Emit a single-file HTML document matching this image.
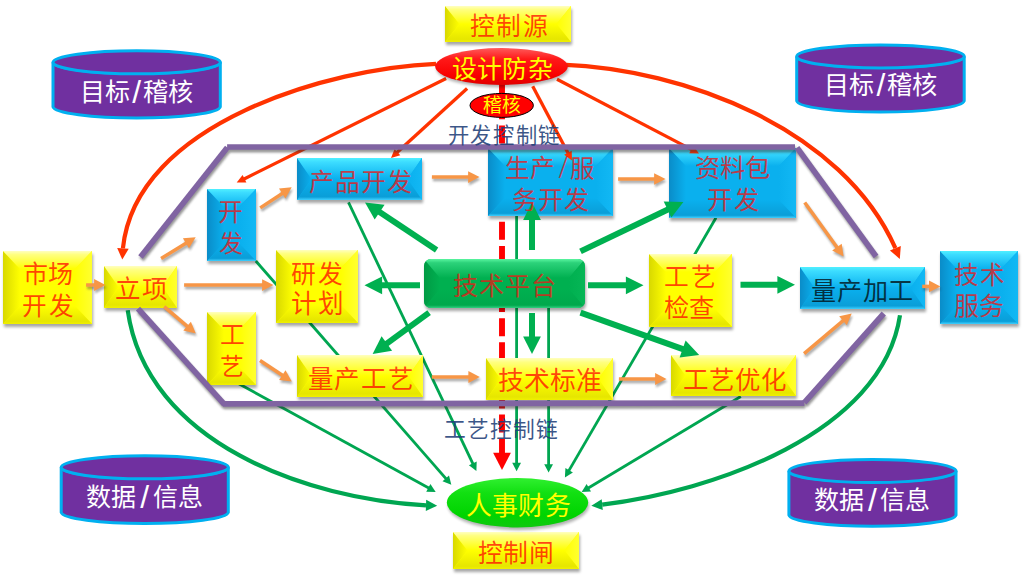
<!DOCTYPE html>
<html lang="zh-CN"><head><meta charset="utf-8"><title>diagram</title>
<style>html,body{margin:0;padding:0;background:#fff;}svg{display:block;}</style>
</head><body>
<svg width="1022" height="577" viewBox="0 0 1022 577">
<defs><filter id="sh" x="-20%" y="-20%" width="140%" height="160%"><feGaussianBlur stdDeviation="1.6"/></filter>
<filter id="shl" x="-5%" y="-20%" width="110%" height="140%"><feGaussianBlur stdDeviation="1.2"/></filter>
<linearGradient id="g1" x1="0" y1="0" x2="1" y2="0"><stop offset="0" stop-color="#D8D800" stop-opacity="1"/><stop offset="1" stop-color="#FFFF00" stop-opacity="1"/></linearGradient>
<linearGradient id="g2" x1="0" y1="0" x2="0" y2="1"><stop offset="0" stop-color="#FFFFC0" stop-opacity="1"/><stop offset="0.2" stop-color="#FFFF80" stop-opacity="1"/><stop offset="1" stop-color="#FFFF00" stop-opacity="1"/></linearGradient>
<linearGradient id="g3" x1="0" y1="0" x2="1" y2="0"><stop offset="0" stop-color="#FFFF00" stop-opacity="1"/><stop offset="1" stop-color="#FFFF30" stop-opacity="1"/></linearGradient>
<linearGradient id="g4" x1="0" y1="0" x2="0" y2="1"><stop offset="0" stop-color="#FFFF00" stop-opacity="1"/><stop offset="0.85" stop-color="#E6E600" stop-opacity="1"/><stop offset="1" stop-color="#F0F000" stop-opacity="1"/></linearGradient>
<linearGradient id="g5" x1="0" y1="0" x2="1" y2="0"><stop offset="0" stop-color="#D8D800" stop-opacity="1"/><stop offset="1" stop-color="#FFFF00" stop-opacity="1"/></linearGradient>
<linearGradient id="g6" x1="0" y1="0" x2="0" y2="1"><stop offset="0" stop-color="#FFFFC0" stop-opacity="1"/><stop offset="0.2" stop-color="#FFFF80" stop-opacity="1"/><stop offset="1" stop-color="#FFFF00" stop-opacity="1"/></linearGradient>
<linearGradient id="g7" x1="0" y1="0" x2="1" y2="0"><stop offset="0" stop-color="#FFFF00" stop-opacity="1"/><stop offset="1" stop-color="#FFFF30" stop-opacity="1"/></linearGradient>
<linearGradient id="g8" x1="0" y1="0" x2="0" y2="1"><stop offset="0" stop-color="#FFFF00" stop-opacity="1"/><stop offset="0.85" stop-color="#E6E600" stop-opacity="1"/><stop offset="1" stop-color="#F0F000" stop-opacity="1"/></linearGradient>
<linearGradient id="g9" x1="0" y1="0" x2="1" y2="0"><stop offset="0" stop-color="#D8D800" stop-opacity="1"/><stop offset="1" stop-color="#FFFF00" stop-opacity="1"/></linearGradient>
<linearGradient id="g10" x1="0" y1="0" x2="0" y2="1"><stop offset="0" stop-color="#FFFFC0" stop-opacity="1"/><stop offset="0.2" stop-color="#FFFF80" stop-opacity="1"/><stop offset="1" stop-color="#FFFF00" stop-opacity="1"/></linearGradient>
<linearGradient id="g11" x1="0" y1="0" x2="1" y2="0"><stop offset="0" stop-color="#FFFF00" stop-opacity="1"/><stop offset="1" stop-color="#FFFF30" stop-opacity="1"/></linearGradient>
<linearGradient id="g12" x1="0" y1="0" x2="0" y2="1"><stop offset="0" stop-color="#FFFF00" stop-opacity="1"/><stop offset="0.85" stop-color="#E6E600" stop-opacity="1"/><stop offset="1" stop-color="#F0F000" stop-opacity="1"/></linearGradient>
<linearGradient id="g13" x1="0" y1="0" x2="1" y2="0"><stop offset="0" stop-color="#0A8CC8" stop-opacity="1"/><stop offset="1" stop-color="#0AB0EE" stop-opacity="1"/></linearGradient>
<linearGradient id="g14" x1="0" y1="0" x2="0" y2="1"><stop offset="0" stop-color="#50F0FF" stop-opacity="1"/><stop offset="0.2" stop-color="#3CDCFF" stop-opacity="1"/><stop offset="1" stop-color="#0AB0EE" stop-opacity="1"/></linearGradient>
<linearGradient id="g15" x1="0" y1="0" x2="1" y2="0"><stop offset="0" stop-color="#0AB0EE" stop-opacity="1"/><stop offset="1" stop-color="#12B8F4" stop-opacity="1"/></linearGradient>
<linearGradient id="g16" x1="0" y1="0" x2="0" y2="1"><stop offset="0" stop-color="#0AB0EE" stop-opacity="1"/><stop offset="0.85" stop-color="#0A9ED8" stop-opacity="1"/><stop offset="1" stop-color="#40D0FF" stop-opacity="1"/></linearGradient>
<linearGradient id="g17" x1="0" y1="0" x2="1" y2="0"><stop offset="0" stop-color="#D8D800" stop-opacity="1"/><stop offset="1" stop-color="#FFFF00" stop-opacity="1"/></linearGradient>
<linearGradient id="g18" x1="0" y1="0" x2="0" y2="1"><stop offset="0" stop-color="#FFFFC0" stop-opacity="1"/><stop offset="0.2" stop-color="#FFFF80" stop-opacity="1"/><stop offset="1" stop-color="#FFFF00" stop-opacity="1"/></linearGradient>
<linearGradient id="g19" x1="0" y1="0" x2="1" y2="0"><stop offset="0" stop-color="#FFFF00" stop-opacity="1"/><stop offset="1" stop-color="#FFFF30" stop-opacity="1"/></linearGradient>
<linearGradient id="g20" x1="0" y1="0" x2="0" y2="1"><stop offset="0" stop-color="#FFFF00" stop-opacity="1"/><stop offset="0.85" stop-color="#E6E600" stop-opacity="1"/><stop offset="1" stop-color="#F0F000" stop-opacity="1"/></linearGradient>
<linearGradient id="g21" x1="0" y1="0" x2="1" y2="0"><stop offset="0" stop-color="#0A8CC8" stop-opacity="1"/><stop offset="1" stop-color="#0AB0EE" stop-opacity="1"/></linearGradient>
<linearGradient id="g22" x1="0" y1="0" x2="0" y2="1"><stop offset="0" stop-color="#50F0FF" stop-opacity="1"/><stop offset="0.2" stop-color="#3CDCFF" stop-opacity="1"/><stop offset="1" stop-color="#0AB0EE" stop-opacity="1"/></linearGradient>
<linearGradient id="g23" x1="0" y1="0" x2="1" y2="0"><stop offset="0" stop-color="#0AB0EE" stop-opacity="1"/><stop offset="1" stop-color="#12B8F4" stop-opacity="1"/></linearGradient>
<linearGradient id="g24" x1="0" y1="0" x2="0" y2="1"><stop offset="0" stop-color="#0AB0EE" stop-opacity="1"/><stop offset="0.85" stop-color="#0A9ED8" stop-opacity="1"/><stop offset="1" stop-color="#40D0FF" stop-opacity="1"/></linearGradient>
<linearGradient id="g25" x1="0" y1="0" x2="1" y2="0"><stop offset="0" stop-color="#D8D800" stop-opacity="1"/><stop offset="1" stop-color="#FFFF00" stop-opacity="1"/></linearGradient>
<linearGradient id="g26" x1="0" y1="0" x2="0" y2="1"><stop offset="0" stop-color="#FFFFC0" stop-opacity="1"/><stop offset="0.2" stop-color="#FFFF80" stop-opacity="1"/><stop offset="1" stop-color="#FFFF00" stop-opacity="1"/></linearGradient>
<linearGradient id="g27" x1="0" y1="0" x2="1" y2="0"><stop offset="0" stop-color="#FFFF00" stop-opacity="1"/><stop offset="1" stop-color="#FFFF30" stop-opacity="1"/></linearGradient>
<linearGradient id="g28" x1="0" y1="0" x2="0" y2="1"><stop offset="0" stop-color="#FFFF00" stop-opacity="1"/><stop offset="0.85" stop-color="#E6E600" stop-opacity="1"/><stop offset="1" stop-color="#F0F000" stop-opacity="1"/></linearGradient>
<linearGradient id="g29" x1="0" y1="0" x2="1" y2="0"><stop offset="0" stop-color="#D8D800" stop-opacity="1"/><stop offset="1" stop-color="#FFFF00" stop-opacity="1"/></linearGradient>
<linearGradient id="g30" x1="0" y1="0" x2="0" y2="1"><stop offset="0" stop-color="#FFFFC0" stop-opacity="1"/><stop offset="0.2" stop-color="#FFFF80" stop-opacity="1"/><stop offset="1" stop-color="#FFFF00" stop-opacity="1"/></linearGradient>
<linearGradient id="g31" x1="0" y1="0" x2="1" y2="0"><stop offset="0" stop-color="#FFFF00" stop-opacity="1"/><stop offset="1" stop-color="#FFFF30" stop-opacity="1"/></linearGradient>
<linearGradient id="g32" x1="0" y1="0" x2="0" y2="1"><stop offset="0" stop-color="#FFFF00" stop-opacity="1"/><stop offset="0.85" stop-color="#E6E600" stop-opacity="1"/><stop offset="1" stop-color="#F0F000" stop-opacity="1"/></linearGradient>
<linearGradient id="g33" x1="0" y1="0" x2="1" y2="0"><stop offset="0" stop-color="#0A8CC8" stop-opacity="1"/><stop offset="1" stop-color="#0AB0EE" stop-opacity="1"/></linearGradient>
<linearGradient id="g34" x1="0" y1="0" x2="0" y2="1"><stop offset="0" stop-color="#50F0FF" stop-opacity="1"/><stop offset="0.2" stop-color="#3CDCFF" stop-opacity="1"/><stop offset="1" stop-color="#0AB0EE" stop-opacity="1"/></linearGradient>
<linearGradient id="g35" x1="0" y1="0" x2="1" y2="0"><stop offset="0" stop-color="#0AB0EE" stop-opacity="1"/><stop offset="1" stop-color="#12B8F4" stop-opacity="1"/></linearGradient>
<linearGradient id="g36" x1="0" y1="0" x2="0" y2="1"><stop offset="0" stop-color="#0AB0EE" stop-opacity="1"/><stop offset="0.85" stop-color="#0A9ED8" stop-opacity="1"/><stop offset="1" stop-color="#40D0FF" stop-opacity="1"/></linearGradient>
<linearGradient id="g37" x1="0" y1="0" x2="1" y2="0"><stop offset="0" stop-color="#D8D800" stop-opacity="1"/><stop offset="1" stop-color="#FFFF00" stop-opacity="1"/></linearGradient>
<linearGradient id="g38" x1="0" y1="0" x2="0" y2="1"><stop offset="0" stop-color="#FFFFC0" stop-opacity="1"/><stop offset="0.2" stop-color="#FFFF80" stop-opacity="1"/><stop offset="1" stop-color="#FFFF00" stop-opacity="1"/></linearGradient>
<linearGradient id="g39" x1="0" y1="0" x2="1" y2="0"><stop offset="0" stop-color="#FFFF00" stop-opacity="1"/><stop offset="1" stop-color="#FFFF30" stop-opacity="1"/></linearGradient>
<linearGradient id="g40" x1="0" y1="0" x2="0" y2="1"><stop offset="0" stop-color="#FFFF00" stop-opacity="1"/><stop offset="0.85" stop-color="#E6E600" stop-opacity="1"/><stop offset="1" stop-color="#F0F000" stop-opacity="1"/></linearGradient>
<linearGradient id="g41" x1="0" y1="0" x2="1" y2="0"><stop offset="0" stop-color="#0A8CC8" stop-opacity="1"/><stop offset="1" stop-color="#0AB0EE" stop-opacity="1"/></linearGradient>
<linearGradient id="g42" x1="0" y1="0" x2="0" y2="1"><stop offset="0" stop-color="#50F0FF" stop-opacity="1"/><stop offset="0.2" stop-color="#3CDCFF" stop-opacity="1"/><stop offset="1" stop-color="#0AB0EE" stop-opacity="1"/></linearGradient>
<linearGradient id="g43" x1="0" y1="0" x2="1" y2="0"><stop offset="0" stop-color="#0AB0EE" stop-opacity="1"/><stop offset="1" stop-color="#12B8F4" stop-opacity="1"/></linearGradient>
<linearGradient id="g44" x1="0" y1="0" x2="0" y2="1"><stop offset="0" stop-color="#0AB0EE" stop-opacity="1"/><stop offset="0.85" stop-color="#0A9ED8" stop-opacity="1"/><stop offset="1" stop-color="#40D0FF" stop-opacity="1"/></linearGradient>
<linearGradient id="g45" x1="0" y1="0" x2="1" y2="0"><stop offset="0" stop-color="#D8D800" stop-opacity="1"/><stop offset="1" stop-color="#FFFF00" stop-opacity="1"/></linearGradient>
<linearGradient id="g46" x1="0" y1="0" x2="0" y2="1"><stop offset="0" stop-color="#FFFFC0" stop-opacity="1"/><stop offset="0.2" stop-color="#FFFF80" stop-opacity="1"/><stop offset="1" stop-color="#FFFF00" stop-opacity="1"/></linearGradient>
<linearGradient id="g47" x1="0" y1="0" x2="1" y2="0"><stop offset="0" stop-color="#FFFF00" stop-opacity="1"/><stop offset="1" stop-color="#FFFF30" stop-opacity="1"/></linearGradient>
<linearGradient id="g48" x1="0" y1="0" x2="0" y2="1"><stop offset="0" stop-color="#FFFF00" stop-opacity="1"/><stop offset="0.85" stop-color="#E6E600" stop-opacity="1"/><stop offset="1" stop-color="#F0F000" stop-opacity="1"/></linearGradient>
<linearGradient id="g49" x1="0" y1="0" x2="1" y2="0"><stop offset="0" stop-color="#D8D800" stop-opacity="1"/><stop offset="1" stop-color="#FFFF00" stop-opacity="1"/></linearGradient>
<linearGradient id="g50" x1="0" y1="0" x2="0" y2="1"><stop offset="0" stop-color="#FFFFC0" stop-opacity="1"/><stop offset="0.2" stop-color="#FFFF80" stop-opacity="1"/><stop offset="1" stop-color="#FFFF00" stop-opacity="1"/></linearGradient>
<linearGradient id="g51" x1="0" y1="0" x2="1" y2="0"><stop offset="0" stop-color="#FFFF00" stop-opacity="1"/><stop offset="1" stop-color="#FFFF30" stop-opacity="1"/></linearGradient>
<linearGradient id="g52" x1="0" y1="0" x2="0" y2="1"><stop offset="0" stop-color="#FFFF00" stop-opacity="1"/><stop offset="0.85" stop-color="#E6E600" stop-opacity="1"/><stop offset="1" stop-color="#F0F000" stop-opacity="1"/></linearGradient>
<linearGradient id="g53" x1="0" y1="0" x2="1" y2="0"><stop offset="0" stop-color="#0A8CC8" stop-opacity="1"/><stop offset="1" stop-color="#0AB0EE" stop-opacity="1"/></linearGradient>
<linearGradient id="g54" x1="0" y1="0" x2="0" y2="1"><stop offset="0" stop-color="#50F0FF" stop-opacity="1"/><stop offset="0.2" stop-color="#3CDCFF" stop-opacity="1"/><stop offset="1" stop-color="#0AB0EE" stop-opacity="1"/></linearGradient>
<linearGradient id="g55" x1="0" y1="0" x2="1" y2="0"><stop offset="0" stop-color="#0AB0EE" stop-opacity="1"/><stop offset="1" stop-color="#12B8F4" stop-opacity="1"/></linearGradient>
<linearGradient id="g56" x1="0" y1="0" x2="0" y2="1"><stop offset="0" stop-color="#0AB0EE" stop-opacity="1"/><stop offset="0.85" stop-color="#0A9ED8" stop-opacity="1"/><stop offset="1" stop-color="#40D0FF" stop-opacity="1"/></linearGradient>
<linearGradient id="g57" x1="0" y1="0" x2="1" y2="0"><stop offset="0" stop-color="#0A8CC8" stop-opacity="1"/><stop offset="1" stop-color="#0AB0EE" stop-opacity="1"/></linearGradient>
<linearGradient id="g58" x1="0" y1="0" x2="0" y2="1"><stop offset="0" stop-color="#50F0FF" stop-opacity="1"/><stop offset="0.2" stop-color="#3CDCFF" stop-opacity="1"/><stop offset="1" stop-color="#0AB0EE" stop-opacity="1"/></linearGradient>
<linearGradient id="g59" x1="0" y1="0" x2="1" y2="0"><stop offset="0" stop-color="#0AB0EE" stop-opacity="1"/><stop offset="1" stop-color="#12B8F4" stop-opacity="1"/></linearGradient>
<linearGradient id="g60" x1="0" y1="0" x2="0" y2="1"><stop offset="0" stop-color="#0AB0EE" stop-opacity="1"/><stop offset="0.85" stop-color="#0A9ED8" stop-opacity="1"/><stop offset="1" stop-color="#40D0FF" stop-opacity="1"/></linearGradient>
<linearGradient id="g61" x1="0" y1="0" x2="1" y2="0"><stop offset="0" stop-color="#D8D800" stop-opacity="1"/><stop offset="1" stop-color="#FFFF00" stop-opacity="1"/></linearGradient>
<linearGradient id="g62" x1="0" y1="0" x2="0" y2="1"><stop offset="0" stop-color="#FFFFC0" stop-opacity="1"/><stop offset="0.2" stop-color="#FFFF80" stop-opacity="1"/><stop offset="1" stop-color="#FFFF00" stop-opacity="1"/></linearGradient>
<linearGradient id="g63" x1="0" y1="0" x2="1" y2="0"><stop offset="0" stop-color="#FFFF00" stop-opacity="1"/><stop offset="1" stop-color="#FFFF30" stop-opacity="1"/></linearGradient>
<linearGradient id="g64" x1="0" y1="0" x2="0" y2="1"><stop offset="0" stop-color="#FFFF00" stop-opacity="1"/><stop offset="0.85" stop-color="#E6E600" stop-opacity="1"/><stop offset="1" stop-color="#F0F000" stop-opacity="1"/></linearGradient>
<clipPath id="tpclip"><rect x="424" y="259" width="161" height="49" rx="7"/></clipPath>
<linearGradient id="g65" x1="0" y1="0" x2="1" y2="0"><stop offset="0" stop-color="#009A44" stop-opacity="1"/><stop offset="1" stop-color="#00B050" stop-opacity="1"/></linearGradient>
<linearGradient id="g66" x1="0" y1="0" x2="0" y2="1"><stop offset="0" stop-color="#5AF5A0" stop-opacity="1"/><stop offset="0.2" stop-color="#2CD27A" stop-opacity="1"/><stop offset="1" stop-color="#00B050" stop-opacity="1"/></linearGradient>
<linearGradient id="g67" x1="0" y1="0" x2="1" y2="0"><stop offset="0" stop-color="#00B050" stop-opacity="1"/><stop offset="1" stop-color="#06B656" stop-opacity="1"/></linearGradient>
<linearGradient id="g68" x1="0" y1="0" x2="0" y2="1"><stop offset="0" stop-color="#00B050" stop-opacity="1"/><stop offset="0.85" stop-color="#00A84C" stop-opacity="1"/><stop offset="1" stop-color="#30D080" stop-opacity="1"/></linearGradient>
<linearGradient id="redg" x1="0" y1="0" x2="0" y2="1"><stop offset="0" stop-color="#FF5A5A"/><stop offset="0.3" stop-color="#FF1818"/><stop offset="0.75" stop-color="#F80000"/><stop offset="1" stop-color="#E00000"/></linearGradient>
<linearGradient id="grg" x1="0" y1="0" x2="0" y2="1"><stop offset="0" stop-color="#30F030"/><stop offset="0.3" stop-color="#12E012"/><stop offset="0.75" stop-color="#00D400"/><stop offset="1" stop-color="#10C810"/></linearGradient></defs>
<rect width="1022" height="577" fill="#fff"/>
<path d="M53 62.3 L53 106.9 A83.7 11.5 0 0 0 220.3 106.9 L220.3 62.3 A83.7 11.5 0 0 1 53 62.3 Z" fill="#7030A0" stroke="#00B0F0" stroke-width="3"/><ellipse cx="136.7" cy="62.3" rx="83.7" ry="11.5" fill="#7030A0" stroke="#00B0F0" stroke-width="3"/>
<path d="M796.7 56.4 L796.7 101 A83.8 11.5 0 0 0 964.2 101 L964.2 56.4 A83.8 11.5 0 0 1 796.7 56.4 Z" fill="#7030A0" stroke="#00B0F0" stroke-width="3"/><ellipse cx="880.5" cy="56.4" rx="83.8" ry="11.5" fill="#7030A0" stroke="#00B0F0" stroke-width="3"/>
<path d="M61.2 467.3 L61.2 512.3 A83.6 11.5 0 0 0 228.3 512.3 L228.3 467.3 A83.6 11.5 0 0 1 61.2 467.3 Z" fill="#7030A0" stroke="#00B0F0" stroke-width="3"/><ellipse cx="144.8" cy="467.3" rx="83.6" ry="11.5" fill="#7030A0" stroke="#00B0F0" stroke-width="3"/>
<path d="M788.9 471 L788.9 515.1 A83.6 11.5 0 0 0 956 515.1 L956 471 A83.6 11.5 0 0 1 788.9 471 Z" fill="#7030A0" stroke="#00B0F0" stroke-width="3"/><ellipse cx="872.5" cy="471" rx="83.6" ry="11.5" fill="#7030A0" stroke="#00B0F0" stroke-width="3"/>
<path d="M127.7 310.3 C146.5 443.5 307.7 499.1 426 505.3" fill="none" stroke="#00A651" stroke-width="4.2"/><polygon points="437.2,505.7 425.8,510.9 426.2,499.7" fill="#00A651"/>
<path d="M900 315.3 C882.2 433.9 711.3 491.7 602.2 504.6" fill="none" stroke="#00A651" stroke-width="4.2"/><polygon points="591.3,505.8 601.7,499.2 602.8,510.1" fill="#00A651"/>
<line x1="255.8" y1="261" x2="446.4" y2="479.1" stroke="#00A651" stroke-width="2.8"/><polygon points="451.3,484.7 442.5,481.2 449,475.5" fill="#00A651"/>
<line x1="348.5" y1="202.4" x2="473.2" y2="464.3" stroke="#00A651" stroke-width="2.8"/><polygon points="476.4,471 468.9,465.3 476.7,461.5" fill="#00A651"/>
<line x1="237" y1="382.7" x2="429.2" y2="488.3" stroke="#00A651" stroke-width="2.8"/><polygon points="435.7,491.9 426.2,491.7 430.4,484" fill="#00A651"/>
<line x1="516.6" y1="216" x2="516.6" y2="463.8" stroke="#00A651" stroke-width="2.8"/><polygon points="516.6,471.2 512.2,462.8 521,462.8" fill="#00A651"/>
<line x1="548.6" y1="306" x2="548.6" y2="465.2" stroke="#00A651" stroke-width="2.8"/><polygon points="548.6,472.6 544.2,464.2 553,464.2" fill="#00A651"/>
<line x1="716" y1="217.8" x2="568.6" y2="471.1" stroke="#00A651" stroke-width="2.8"/><polygon points="564.9,477.5 565.4,468.1 572.9,472.4" fill="#00A651"/>
<line x1="740.8" y1="396.5" x2="587.9" y2="488.2" stroke="#00A651" stroke-width="2.8"/><polygon points="581.6,492 586.6,483.9 591,491.4" fill="#00A651"/>
<line x1="502" y1="77.2" x2="502" y2="453" stroke="#FF0000" stroke-width="5.9" stroke-dasharray="18 6.1" stroke-dashoffset="0"/>
<polygon points="502,470.1 493.1,452.8 510.9,452.8" fill="#FF0000"/>
<rect x="446" y="9" width="126" height="36" fill="#000" opacity="0.35" filter="url(#sh)"/><rect x="445" y="6" width="126" height="36" fill="#FFFF00"/><polygon points="445,6 459.5,24 459.5,24 445,42" fill="url(#g1)"/><polygon points="445,6 571,6 556.5,24 459.5,24" fill="url(#g2)"/><polygon points="571,6 571,42 556.5,24 556.5,24" fill="url(#g3)"/><polygon points="445,42 459.5,24 556.5,24 571,42" fill="url(#g4)"/><rect x="4" y="254" width="89" height="73" fill="#000" opacity="0.35" filter="url(#sh)"/><rect x="3" y="251" width="89" height="73" fill="#FFFF00"/><polygon points="3,251 20,269 20,306 3,324" fill="url(#g5)"/><polygon points="3,251 92,251 75,269 20,269" fill="url(#g6)"/><polygon points="92,251 92,324 75,306 75,269" fill="url(#g7)"/><polygon points="3,324 20,306 75,306 92,324" fill="url(#g8)"/><rect x="105" y="269" width="73" height="42" fill="#000" opacity="0.35" filter="url(#sh)"/><rect x="104" y="266" width="73" height="42" fill="#FFFF00"/><polygon points="104,266 118.5,287 118.5,287 104,308" fill="url(#g9)"/><polygon points="104,266 177,266 162.5,287 118.5,287" fill="url(#g10)"/><polygon points="177,266 177,308 162.5,287 162.5,287" fill="url(#g11)"/><polygon points="104,308 118.5,287 162.5,287 177,308" fill="url(#g12)"/><rect x="208" y="192" width="49" height="72" fill="#000" opacity="0.35" filter="url(#sh)"/><rect x="207" y="189" width="49" height="72" fill="#0AB0EE"/><polygon points="207,189 224,207 224,243 207,261" fill="url(#g13)"/><polygon points="207,189 256,189 239,207 224,207" fill="url(#g14)"/><polygon points="256,189 256,261 239,243 239,207" fill="url(#g15)"/><polygon points="207,261 224,243 239,243 256,261" fill="url(#g16)"/><rect x="208" y="315" width="49" height="73" fill="#000" opacity="0.35" filter="url(#sh)"/><rect x="207" y="312" width="49" height="73" fill="#FFFF00"/><polygon points="207,312 224,330 224,367 207,385" fill="url(#g17)"/><polygon points="207,312 256,312 239,330 224,330" fill="url(#g18)"/><polygon points="256,312 256,385 239,367 239,330" fill="url(#g19)"/><polygon points="207,385 224,367 239,367 256,385" fill="url(#g20)"/><rect x="298" y="161" width="125" height="42" fill="#000" opacity="0.35" filter="url(#sh)"/><rect x="297" y="158" width="125" height="42" fill="#0AB0EE"/><polygon points="297,158 311.5,179 311.5,179 297,200" fill="url(#g21)"/><polygon points="297,158 422,158 407.5,179 311.5,179" fill="url(#g22)"/><polygon points="422,158 422,200 407.5,179 407.5,179" fill="url(#g23)"/><polygon points="297,200 311.5,179 407.5,179 422,200" fill="url(#g24)"/><rect x="277" y="253" width="82" height="73" fill="#000" opacity="0.35" filter="url(#sh)"/><rect x="276" y="250" width="82" height="73" fill="#FFFF00"/><polygon points="276,250 293,268 293,305 276,323" fill="url(#g25)"/><polygon points="276,250 358,250 341,268 293,268" fill="url(#g26)"/><polygon points="358,250 358,323 341,305 341,268" fill="url(#g27)"/><polygon points="276,323 293,305 341,305 358,323" fill="url(#g28)"/><rect x="298" y="358" width="126" height="42" fill="#000" opacity="0.35" filter="url(#sh)"/><rect x="297" y="355" width="126" height="42" fill="#FFFF00"/><polygon points="297,355 311.5,376 311.5,376 297,397" fill="url(#g29)"/><polygon points="297,355 423,355 408.5,376 311.5,376" fill="url(#g30)"/><polygon points="423,355 423,397 408.5,376 408.5,376" fill="url(#g31)"/><polygon points="297,397 311.5,376 408.5,376 423,397" fill="url(#g32)"/><rect x="489" y="151" width="125" height="68" fill="#000" opacity="0.35" filter="url(#sh)"/><rect x="488" y="148" width="125" height="68" fill="#0AB0EE"/><polygon points="488,148 505,166 505,198 488,216" fill="url(#g33)"/><polygon points="488,148 613,148 596,166 505,166" fill="url(#g34)"/><polygon points="613,148 613,216 596,198 596,166" fill="url(#g35)"/><polygon points="488,216 505,198 596,198 613,216" fill="url(#g36)"/><rect x="487" y="361" width="127" height="42" fill="#000" opacity="0.35" filter="url(#sh)"/><rect x="486" y="358" width="127" height="42" fill="#FFFF00"/><polygon points="486,358 500.5,379 500.5,379 486,400" fill="url(#g37)"/><polygon points="486,358 613,358 598.5,379 500.5,379" fill="url(#g38)"/><polygon points="613,358 613,400 598.5,379 598.5,379" fill="url(#g39)"/><polygon points="486,400 500.5,379 598.5,379 613,400" fill="url(#g40)"/><rect x="670" y="151" width="127" height="70" fill="#000" opacity="0.35" filter="url(#sh)"/><rect x="669" y="148" width="127" height="70" fill="#0AB0EE"/><polygon points="669,148 686,166 686,200 669,218" fill="url(#g41)"/><polygon points="669,148 796,148 779,166 686,166" fill="url(#g42)"/><polygon points="796,148 796,218 779,200 779,166" fill="url(#g43)"/><polygon points="669,218 686,200 779,200 796,218" fill="url(#g44)"/><rect x="650" y="257" width="83" height="73" fill="#000" opacity="0.35" filter="url(#sh)"/><rect x="649" y="254" width="83" height="73" fill="#FFFF00"/><polygon points="649,254 666,272 666,309 649,327" fill="url(#g45)"/><polygon points="649,254 732,254 715,272 666,272" fill="url(#g46)"/><polygon points="732,254 732,327 715,309 715,272" fill="url(#g47)"/><polygon points="649,327 666,309 715,309 732,327" fill="url(#g48)"/><rect x="672" y="358" width="125" height="41" fill="#000" opacity="0.35" filter="url(#sh)"/><rect x="671" y="355" width="125" height="41" fill="#FFFF00"/><polygon points="671,355 685.5,375.5 685.5,375.5 671,396" fill="url(#g49)"/><polygon points="671,355 796,355 781.5,375.5 685.5,375.5" fill="url(#g50)"/><polygon points="796,355 796,396 781.5,375.5 781.5,375.5" fill="url(#g51)"/><polygon points="671,396 685.5,375.5 781.5,375.5 796,396" fill="url(#g52)"/><rect x="801" y="270" width="125" height="42" fill="#000" opacity="0.35" filter="url(#sh)"/><rect x="800" y="267" width="125" height="42" fill="#0AB0EE"/><polygon points="800,267 814.5,288 814.5,288 800,309" fill="url(#g53)"/><polygon points="800,267 925,267 910.5,288 814.5,288" fill="url(#g54)"/><polygon points="925,267 925,309 910.5,288 910.5,288" fill="url(#g55)"/><polygon points="800,309 814.5,288 910.5,288 925,309" fill="url(#g56)"/><rect x="941" y="254" width="78" height="73" fill="#000" opacity="0.35" filter="url(#sh)"/><rect x="940" y="251" width="78" height="73" fill="#0AB0EE"/><polygon points="940,251 957,269 957,306 940,324" fill="url(#g57)"/><polygon points="940,251 1018,251 1001,269 957,269" fill="url(#g58)"/><polygon points="1018,251 1018,324 1001,306 1001,269" fill="url(#g59)"/><polygon points="940,324 957,306 1001,306 1018,324" fill="url(#g60)"/><rect x="454" y="535" width="126" height="37" fill="#000" opacity="0.35" filter="url(#sh)"/><rect x="453" y="532" width="126" height="37" fill="#FFFF00"/><polygon points="453,532 467.5,550.5 467.5,550.5 453,569" fill="url(#g61)"/><polygon points="453,532 579,532 564.5,550.5 467.5,550.5" fill="url(#g62)"/><polygon points="579,532 579,569 564.5,550.5 564.5,550.5" fill="url(#g63)"/><polygon points="453,569 467.5,550.5 564.5,550.5 579,569" fill="url(#g64)"/>
<rect x="425" y="262" width="161" height="49" rx="7" fill="#000" opacity="0.35" filter="url(#sh)"/><g clip-path="url(#tpclip)"><rect x="424" y="259" width="161" height="49" fill="#00B050"/><polygon points="424,259 440,278 440,289 424,308" fill="url(#g65)"/><polygon points="424,259 585,259 569,278 440,278" fill="url(#g66)"/><polygon points="585,259 585,308 569,289 569,278" fill="url(#g67)"/><polygon points="424,308 440,289 569,289 585,308" fill="url(#g68)"/></g>
<path d="M436 63.8 C331.4 67.9 135.7 122.3 122.9 248.4" fill="none" stroke="#FF3300" stroke-width="4.2"/><polygon points="122.3,259.6 117.2,248.1 128.7,248.7" fill="#FF3300"/><path d="M562 64.6 C684.8 69.1 842.3 128.5 895.4 248.2" fill="none" stroke="#FF3300" stroke-width="4.2"/><polygon points="899.8,258.9 889.9,250.4 900.8,245.9" fill="#FF3300"/><line x1="446.1" y1="78.4" x2="243.6" y2="179.2" stroke="#FF3300" stroke-width="3.3"/><polygon points="236.7,182.6 242.6,174.9 246.4,182.5" fill="#FF3300"/><line x1="467.1" y1="88.5" x2="396.7" y2="152.8" stroke="#FF3300" stroke-width="3.3"/><polygon points="391,158 394.6,149 400.3,155.3" fill="#FF3300"/><line x1="532.7" y1="86.3" x2="568.4" y2="153.7" stroke="#FF3300" stroke-width="3.3"/><polygon points="572,160.5 564.2,154.8 571.7,150.8" fill="#FF3300"/><line x1="557" y1="79.3" x2="692.2" y2="149.9" stroke="#FF3300" stroke-width="3.3"/><polygon points="699,153.5 689.3,153.2 693.3,145.7" fill="#FF3300"/>
<g filter="url(#shl)" opacity="0.5" transform="translate(1,2.6)"><line x1="140.5" y1="257" x2="227.3" y2="147.4" stroke="#303030" stroke-width="5.7"/><line x1="227.1" y1="147" x2="795" y2="147" stroke="#303030" stroke-width="5.7"/><line x1="797" y1="147.6" x2="876.1" y2="256.5" stroke="#303030" stroke-width="5.7"/><line x1="138" y1="308.7" x2="224.4" y2="404.4" stroke="#303030" stroke-width="5.7"/><line x1="222.9" y1="403.8" x2="804.4" y2="403.1" stroke="#303030" stroke-width="5.7"/><line x1="804.3" y1="402.6" x2="883.8" y2="313.5" stroke="#303030" stroke-width="5.7"/></g>
<line x1="140.5" y1="257" x2="227.3" y2="147.4" stroke="#8064A2" stroke-width="5.7"/><line x1="227.1" y1="147" x2="795" y2="147" stroke="#8064A2" stroke-width="5.7"/><line x1="797" y1="147.6" x2="876.1" y2="256.5" stroke="#8064A2" stroke-width="5.7"/><line x1="138" y1="308.7" x2="224.4" y2="404.4" stroke="#8064A2" stroke-width="5.7"/><line x1="222.9" y1="403.8" x2="804.4" y2="403.1" stroke="#8064A2" stroke-width="5.7"/><line x1="804.3" y1="402.6" x2="883.8" y2="313.5" stroke="#8064A2" stroke-width="5.7"/>
<line x1="436.6" y1="250" x2="378.8" y2="211.6" stroke="#00B050" stroke-width="6"/><polygon points="365,202.4 384.6,204.7 374.7,219.6" fill="#00B050"/><line x1="532" y1="250" x2="532" y2="218.9" stroke="#00B050" stroke-width="6"/><polygon points="532,202.3 540.9,219.9 523.1,219.9" fill="#00B050"/><line x1="580.5" y1="251.4" x2="668.4" y2="209.2" stroke="#00B050" stroke-width="6"/><polygon points="683.4,202 671.4,217.6 663.7,201.6" fill="#00B050"/><line x1="420" y1="285.3" x2="381.1" y2="285.3" stroke="#00B050" stroke-width="6"/><polygon points="364.5,285.3 382.1,276.4 382.1,294.2" fill="#00B050"/><line x1="588" y1="285.3" x2="626.9" y2="285.3" stroke="#00B050" stroke-width="6"/><polygon points="643.5,285.3 625.9,294.2 625.9,276.4" fill="#00B050"/><line x1="429.1" y1="312.6" x2="386" y2="344.1" stroke="#00B050" stroke-width="6"/><polygon points="372.6,353.9 381.6,336.3 392.1,350.7" fill="#00B050"/><line x1="532" y1="313" x2="532" y2="337.4" stroke="#00B050" stroke-width="6"/><polygon points="532,354 523.1,336.4 540.9,336.4" fill="#00B050"/><line x1="580.5" y1="312.6" x2="683.6" y2="349.3" stroke="#00B050" stroke-width="6"/><polygon points="699.2,354.9 679.6,357.4 685.6,340.6" fill="#00B050"/><line x1="740.5" y1="284.8" x2="778.4" y2="284.8" stroke="#00B050" stroke-width="6"/><polygon points="795,284.8 777.4,293.7 777.4,275.9" fill="#00B050"/>
<g transform="translate(1,2.5)" filter="url(#shl)" opacity="0.4"><line x1="86.1" y1="285" x2="95.1" y2="285" stroke="#303030" stroke-width="3.5"/><polygon points="105.5,285 94.1,290.9 94.1,279.1" fill="#303030"/><line x1="161.1" y1="258.5" x2="186.8" y2="242.7" stroke="#303030" stroke-width="3.5"/><polygon points="195.7,237.3 189,248.2 182.9,238.3" fill="#303030"/><line x1="184.1" y1="285.1" x2="263.1" y2="285.1" stroke="#303030" stroke-width="3.5"/><polygon points="273.5,285.1 262.1,291 262.1,279.2" fill="#303030"/><line x1="164.2" y1="306.6" x2="187.9" y2="326.8" stroke="#303030" stroke-width="3.5"/><polygon points="195.8,333.6 183.3,330.6 190.9,321.7" fill="#303030"/><line x1="260.2" y1="207.9" x2="283" y2="193" stroke="#303030" stroke-width="3.5"/><polygon points="291.7,187.3 285.4,198.4 279,188.6" fill="#303030"/><line x1="260" y1="360.5" x2="283.1" y2="375.7" stroke="#303030" stroke-width="3.5"/><polygon points="291.8,381.4 279.1,380 285.5,370.3" fill="#303030"/><line x1="431.9" y1="177.1" x2="469.1" y2="177.1" stroke="#303030" stroke-width="3.5"/><polygon points="479.5,177.1 468.1,182.9 468.1,171.2" fill="#303030"/><line x1="618.1" y1="179" x2="655.1" y2="179" stroke="#303030" stroke-width="3.5"/><polygon points="665.5,179 654.1,184.8 654.1,173.2" fill="#303030"/><line x1="804.7" y1="202.6" x2="837.5" y2="248" stroke="#303030" stroke-width="3.5"/><polygon points="843.6,256.4 832.2,250.6 841.7,243.7" fill="#303030"/><line x1="431.8" y1="377" x2="469.4" y2="377" stroke="#303030" stroke-width="3.5"/><polygon points="479.8,377 468.4,382.9 468.4,371.1" fill="#303030"/><line x1="618.9" y1="379" x2="656.1" y2="379" stroke="#303030" stroke-width="3.5"/><polygon points="666.5,379 655.1,384.9 655.1,373.1" fill="#303030"/><line x1="804.1" y1="353.6" x2="843.8" y2="320.1" stroke="#303030" stroke-width="3.5"/><polygon points="851.7,313.4 846.8,325.2 839.2,316.3" fill="#303030"/><line x1="922.2" y1="286.4" x2="930" y2="286.4" stroke="#303030" stroke-width="3.5"/><polygon points="940.4,286.4 929,292.2 929,280.5" fill="#303030"/></g>
<line x1="86.1" y1="285" x2="95.1" y2="285" stroke="#F79646" stroke-width="3.5"/><polygon points="105.5,285 94.1,290.9 94.1,279.1" fill="#F79646"/><line x1="161.1" y1="258.5" x2="186.8" y2="242.7" stroke="#F79646" stroke-width="3.5"/><polygon points="195.7,237.3 189,248.2 182.9,238.3" fill="#F79646"/><line x1="184.1" y1="285.1" x2="263.1" y2="285.1" stroke="#F79646" stroke-width="3.5"/><polygon points="273.5,285.1 262.1,291 262.1,279.2" fill="#F79646"/><line x1="164.2" y1="306.6" x2="187.9" y2="326.8" stroke="#F79646" stroke-width="3.5"/><polygon points="195.8,333.6 183.3,330.6 190.9,321.7" fill="#F79646"/><line x1="260.2" y1="207.9" x2="283" y2="193" stroke="#F79646" stroke-width="3.5"/><polygon points="291.7,187.3 285.4,198.4 279,188.6" fill="#F79646"/><line x1="260" y1="360.5" x2="283.1" y2="375.7" stroke="#F79646" stroke-width="3.5"/><polygon points="291.8,381.4 279.1,380 285.5,370.3" fill="#F79646"/><line x1="431.9" y1="177.1" x2="469.1" y2="177.1" stroke="#F79646" stroke-width="3.5"/><polygon points="479.5,177.1 468.1,182.9 468.1,171.2" fill="#F79646"/><line x1="618.1" y1="179" x2="655.1" y2="179" stroke="#F79646" stroke-width="3.5"/><polygon points="665.5,179 654.1,184.8 654.1,173.2" fill="#F79646"/><line x1="804.7" y1="202.6" x2="837.5" y2="248" stroke="#F79646" stroke-width="3.5"/><polygon points="843.6,256.4 832.2,250.6 841.7,243.7" fill="#F79646"/><line x1="431.8" y1="377" x2="469.4" y2="377" stroke="#F79646" stroke-width="3.5"/><polygon points="479.8,377 468.4,382.9 468.4,371.1" fill="#F79646"/><line x1="618.9" y1="379" x2="656.1" y2="379" stroke="#F79646" stroke-width="3.5"/><polygon points="666.5,379 655.1,384.9 655.1,373.1" fill="#F79646"/><line x1="804.1" y1="353.6" x2="843.8" y2="320.1" stroke="#F79646" stroke-width="3.5"/><polygon points="851.7,313.4 846.8,325.2 839.2,316.3" fill="#F79646"/><line x1="922.2" y1="286.4" x2="930" y2="286.4" stroke="#F79646" stroke-width="3.5"/><polygon points="940.4,286.4 929,292.2 929,280.5" fill="#F79646"/>
<ellipse cx="502.5" cy="69" rx="66" ry="18.4" fill="#000" opacity="0.3" filter="url(#sh)"/>
<ellipse cx="501.5" cy="66.5" rx="66.3" ry="18.4" fill="url(#redg)"/>
<ellipse cx="501.7" cy="105.4" rx="31.7" ry="12" fill="#FF0000" stroke="#000" stroke-width="1"/>
<ellipse cx="518.5" cy="505.5" rx="70.5" ry="24.7" fill="#000" opacity="0.3" filter="url(#sh)"/>
<ellipse cx="517.5" cy="502.7" rx="70.7" ry="24.7" fill="url(#grg)"/>
<text x="470" y="35.1" font-size="24.77" fill="#FF0000" font-family='"Liberation Serif", serif' letter-spacing="1.26" fill-opacity="0.72">控制源</text><text x="22.7" y="283.2" font-size="25.01" fill="#FF0000" font-family='"Liberation Serif", serif' letter-spacing="0.13" fill-opacity="0.72">市场</text><text x="22.3" y="314.5" font-size="24.64" fill="#FF0000" font-family='"Liberation Serif", serif' letter-spacing="1.34" fill-opacity="0.72">开发</text><text x="115.1" y="298.4" font-size="25.51" fill="#FF0000" font-family='"Liberation Serif", serif' letter-spacing="0.47" fill-opacity="0.72">立项</text><text x="218.1" y="220.8" font-size="24.80" fill="#F01414" font-family='"Liberation Serif", serif' fill-opacity="0.76">开</text><text x="219.4" y="252.2" font-size="23.80" fill="#F01414" font-family='"Liberation Serif", serif' fill-opacity="0.76">发</text><text x="219.7" y="344.1" font-size="24.78" fill="#FF0000" font-family='"Liberation Serif", serif' fill-opacity="0.72">工</text><text x="220.4" y="374.7" font-size="23.86" fill="#FF0000" font-family='"Liberation Serif", serif' fill-opacity="0.72">艺</text><text x="308.5" y="191" font-size="24.84" fill="#F01414" font-family='"Liberation Serif", serif' letter-spacing="1.04" fill-opacity="0.76">产品开发</text><text x="291.4" y="282.6" font-size="24.79" fill="#FF0000" font-family='"Liberation Serif", serif' letter-spacing="1.45" fill-opacity="0.72">研发</text><text x="291.1" y="313.3" font-size="25.62" fill="#FF0000" font-family='"Liberation Serif", serif' letter-spacing="1.35" fill-opacity="0.72">计划</text><text x="307.9" y="388.3" font-size="25.50" fill="#FF0000" font-family='"Liberation Serif", serif' letter-spacing="0.58" fill-opacity="0.72">量产工艺</text><text fill="#F01414" font-family='"Liberation Serif", serif' fill-opacity="0.76"><tspan x="505.2" y="177" font-size="24.64">生产</tspan><tspan x="558.7" y="178.4" font-size="33.18">/</tspan><tspan x="570.4" y="176.7" font-size="24.40">服</tspan></text><text x="512.2" y="208.5" font-size="24.95" fill="#F01414" font-family='"Liberation Serif", serif' letter-spacing="1.00" fill-opacity="0.76">务开发</text><text x="452.9" y="295.2" font-size="25.01" fill="#F01414" font-family='"Liberation Serif", serif' letter-spacing="1.05" fill-opacity="0.76">技术平台</text><text x="498.2" y="390.4" font-size="25.81" fill="#FF0000" font-family='"Liberation Serif", serif' letter-spacing="0.06" fill-opacity="0.72">技术标准</text><text x="694.9" y="176.9" font-size="25.20" fill="#F01414" font-family='"Liberation Serif", serif' letter-spacing="0.29" fill-opacity="0.76">资料包</text><text x="707" y="208.6" font-size="25.16" fill="#F01414" font-family='"Liberation Serif", serif' letter-spacing="1.74" fill-opacity="0.76">开发</text><text x="664.3" y="285.9" font-size="24.71" fill="#FF0000" font-family='"Liberation Serif", serif' letter-spacing="1.54" fill-opacity="0.72">工艺</text><text x="664" y="317.3" font-size="25.16" fill="#FF0000" font-family='"Liberation Serif", serif' letter-spacing="0.20" fill-opacity="0.72">检查</text><text x="682.6" y="388.5" font-size="25.53" fill="#FF0000" font-family='"Liberation Serif", serif' letter-spacing="0.26" fill-opacity="0.72">工艺优化</text><text x="811.2" y="300" font-size="25.13" fill="#000000" font-family='"Liberation Serif", serif' letter-spacing="0.66" fill-opacity="0.72">量产加工</text><text x="953.9" y="283.8" font-size="24.54" fill="#F01414" font-family='"Liberation Serif", serif' letter-spacing="0.99" fill-opacity="0.76">技术</text><text x="953.9" y="315.2" font-size="24.92" fill="#F01414" font-family='"Liberation Serif", serif' letter-spacing="0.26" fill-opacity="0.76">服务</text><text x="477.5" y="561.6" font-size="24.87" fill="#FF0000" font-family='"Liberation Serif", serif' letter-spacing="0.98" fill-opacity="0.72">控制闸</text><text x="451.5" y="77.9" font-size="24.89" fill="#FFFF00" font-family='"Liberation Sans", sans-serif' letter-spacing="0.49">设计防杂</text><text x="482.5" y="112.3" font-size="18.81" fill="#FFFF00" font-family='"Liberation Sans", sans-serif' letter-spacing="0.78">稽核</text><text x="465.7" y="515" font-size="25.86" fill="#FFFF00" font-family='"Liberation Sans", sans-serif' letter-spacing="0.36">人事财务</text><text x="447.5" y="142.8" font-size="21.31" fill="#1F3F78" font-family='"Liberation Sans", sans-serif' letter-spacing="1.74" fill-opacity="0.88">开发控制链</text><text x="443.9" y="436.8" font-size="21.77" fill="#1F3F78" font-family='"Liberation Sans", sans-serif' letter-spacing="1.12" fill-opacity="0.88">工艺控制链</text><text fill="#FFFFFF" font-family='"Liberation Sans", sans-serif'><tspan x="79.5" y="101.1" font-size="25.00">目标</tspan><tspan x="132.2" y="103.2" font-size="31.78">/</tspan><tspan x="143" y="101.2" font-size="25.18">稽核</tspan></text><text fill="#FFFFFF" font-family='"Liberation Sans", sans-serif'><tspan x="823.8" y="94.2" font-size="25.00">目标</tspan><tspan x="876.5" y="96.3" font-size="31.78">/</tspan><tspan x="887.3" y="94.3" font-size="25.18">稽核</tspan></text><text fill="#FFFFFF" font-family='"Liberation Sans", sans-serif'><tspan x="86.2" y="506" font-size="25.05">数据</tspan><tspan x="140.2" y="508.2" font-size="31.78">/</tspan><tspan x="152.5" y="506.1" font-size="24.98">信息</tspan></text><text fill="#FFFFFF" font-family='"Liberation Sans", sans-serif'><tspan x="814" y="508.8" font-size="25.05">数据</tspan><tspan x="868" y="511" font-size="31.78">/</tspan><tspan x="880.3" y="508.9" font-size="24.98">信息</tspan></text>
</svg>
</body></html>
